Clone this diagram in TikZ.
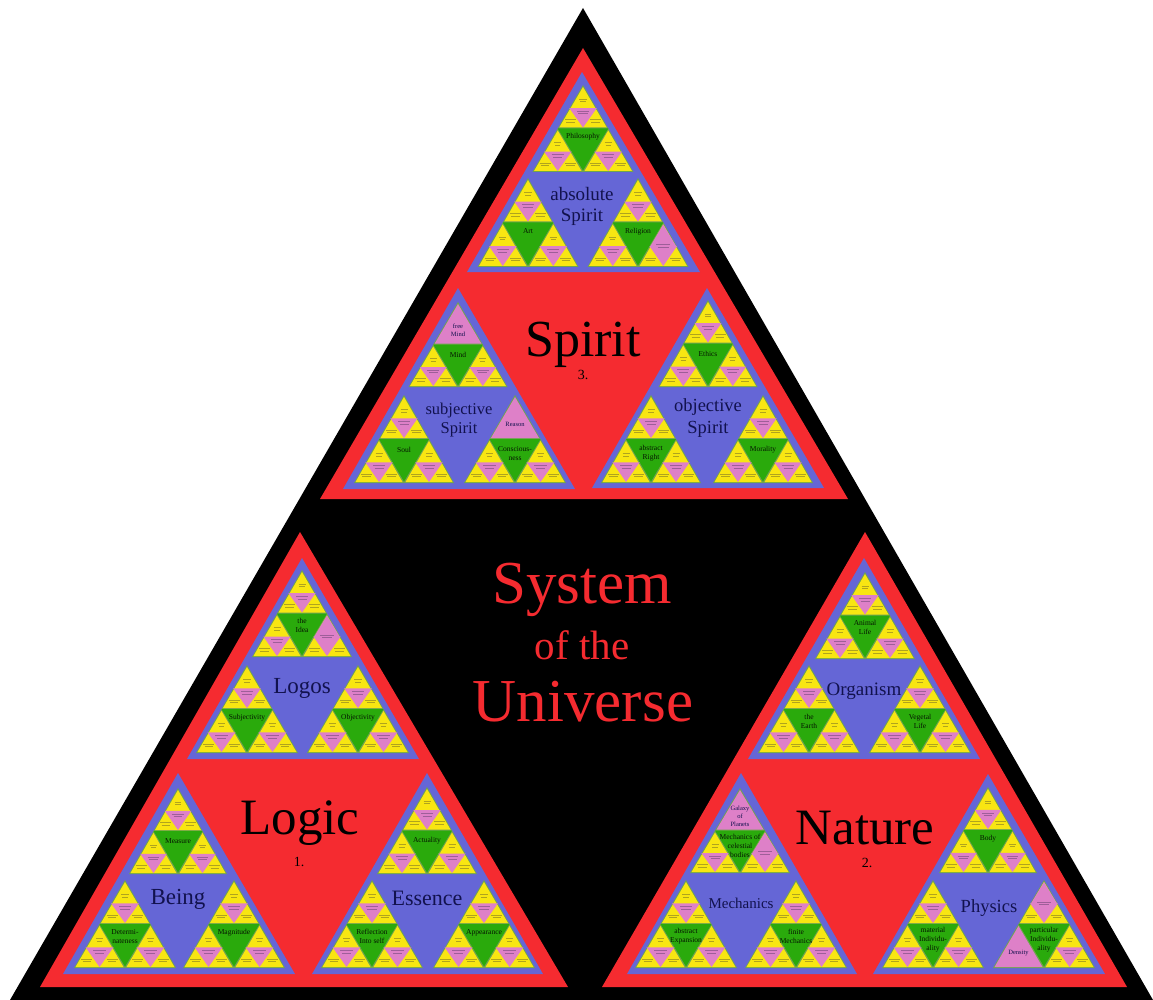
\documentclass[tikz,border=0pt]{standalone}
\usepackage{fontspec}
\setmainfont{Liberation Serif}
\definecolor{sysred}{HTML}{F52B30}
\definecolor{sysblue}{HTML}{6566D6}
\definecolor{sysgreen}{HTML}{2AAA0C}
\definecolor{sysedge}{HTML}{70A44E}
\definecolor{sysyellow}{HTML}{F8E612}
\definecolor{syspink}{HTML}{DE80C8}
\definecolor{sysink}{HTML}{12124E}
\tikzset{
  x=1pt,y=-1pt,
  blackpart/.style={fill=black},
  redpart/.style={fill=sysred},
  bluepart/.style={fill=sysblue},
  edgepart/.style={fill=sysedge},
  greenpart/.style={fill=sysgreen},
  yellowpart/.style={fill=sysyellow},
  pinkpart/.style={fill=syspink},
  microtext/.style={draw=black!75!sysblue,line width=.8pt,opacity=.32},
  txt/.style={inner sep=0pt,align=center},
  bigtext/.style={txt,text=black},
  titletext/.style={txt,text=sysred},
  bluetext/.style={txt,text=sysink},
  greentext/.style={txt,text=black!88!sysgreen},
  pinktext/.style={txt,text=sysink},
}
\newcommand\fs[2]{\fontsize{#1}{#2}\selectfont}
\newcounter{lbl}
\newcommand\lab[5]{\stepcounter{lbl}\node[#1,font=\fs{#2}{#3}] (lbl\arabic{lbl}) at (#4) {#5};}
% up triangle: apex x, apex y, width, height
\newcommand\sysup[5]{\fill[#5] ({#1},{#2}) -- ({#1-(#3)/2},{#2+(#4)}) -- ({#1+(#3)/2},{#2+(#4)}) -- cycle;}
% down triangle: centre x, top y, width, height
\newcommand\sysdown[5]{\fill[#5] ({#1-(#3)/2},{#2}) -- ({#1+(#3)/2},{#2}) -- ({#1},{#2+(#4)}) -- cycle;}
\newcommand\inklines[3]{% centre x, y, half width
  \draw[microtext] ({#1-(#3)},{#2}) -- ({#1+(#3)},{#2});
  \draw[microtext] ({#1-.75*(#3)},{#2+2.6}) -- ({#1+.75*(#3)},{#2+2.6});}
% micro cells: apex x, apex y, width, height
\newcommand\subn[4]{%
  \sysup{#1}{#2+2}{#3-3}{#4-3}{yellowpart}
  \sysdown{#1}{#2+2+(#4-3)*.52}{(#3-3)*.58}{(#4-3)*.48}{pinkpart}
  \inklines{#1}{#2+2+(#4-3)*.30}{(#3)*.07}
  \inklines{#1}{#2+2+(#4-3)*.60}{(#3)*.12}
  \inklines{#1-(#3)/4}{#2+(#4)*.80}{(#3)*.11}
  \inklines{#1+(#3)/4}{#2+(#4)*.80}{(#3)*.11}}
\newcommand\subd[4]{%
  \sysup{#1}{#2+2}{#3-3}{#4-3}{yellowpart}
  \sysdown{#1}{#2+2+(#4-3)*.52}{(#3-3)*.58}{(#4-3)*.48}{pinkpart}
  \sysup{#1}{#2+2}{(#3-3)*.56}{(#4-3)*.54}{pinkpart}
  \inklines{#1}{#2+(#4)*.50}{(#3)*.14}
  \inklines{#1-(#3)/4}{#2+(#4)*.80}{(#3)*.11}
  \inklines{#1+(#3)/4}{#2+(#4)*.80}{(#3)*.11}}
\newcommand\subp[5]{%
  \sysup{#2}{#3+2}{#4-3}{#5-3}{pinkpart}
  \lab{pinktext}{6.5}{8}{{#2},{#3+(#5)*.66}}{#1}}
% level-three cell: x, y, w, h, label height fraction, three micro cells, label
\newcommand\cellx[9]{\def\celltext{#9}\cellgo{#1}{#2}{#3}{#4}{#5}{#6}{#7}{#8}}
\newcommand\cellgo[8]{%
  \sysup{#1}{#2}{#3}{#4}{edgepart}
  \sysdown{#1}{#2+(#4)/2}{(#3)/2}{(#4)/2-1.5}{greenpart}
  #6{#1}{#2}{(#3)/2}{(#4)/2}
  #7{#1-(#3)/4}{#2+(#4)/2}{(#3)/2}{(#4)/2}
  #8{#1+(#3)/4}{#2+(#4)/2}{(#3)/2}{(#4)/2}
  \lab{greentext}{7.5}{9}{{#1},{#2+(#4)*#5}}{\celltext}}
\begin{document}
\begin{tikzpicture}
\useasboundingbox[fill=white] (0,0) rectangle (1153,1000);
% outer triangle
\fill[blackpart] (583,8) -- (10,1000) -- (1153,1000) -- cycle;
% red triangles
\fill[redpart] (583,48) -- (320,499) -- (848,499) -- cycle;
\fill[redpart] (300,532) -- (40,987) -- (568,987) -- cycle;
\fill[redpart] (865,532) -- (602,987) -- (1127,987) -- cycle;
% blue triangles
\fill[bluepart] (582,72) -- (467,272) -- (700,272) -- cycle;
\fill[bluepart] (458,288) -- (343,489) -- (575,489) -- cycle;
\fill[bluepart] (707,288) -- (592,488) -- (824,488) -- cycle;
\fill[bluepart] (178,773) -- (63,974) -- (295,974) -- cycle;
\fill[bluepart] (427,773) -- (312,974) -- (543,974) -- cycle;
\fill[bluepart] (302,558) -- (187,759) -- (419,759) -- cycle;
\fill[bluepart] (741,773) -- (627,974) -- (857,974) -- cycle;
\fill[bluepart] (988,774) -- (873,974) -- (1105,974) -- cycle;
\fill[bluepart] (864,558) -- (748,759) -- (980,759) -- cycle;
% absolute Spirit
\cellx{583}{85}{101}{87}{.60}{\subn}{\subn}{\subn}{Philosophy}
\cellx{528}{178}{101}{89}{.60}{\subn}{\subn}{\subn}{Art}
\cellx{638}{178}{101}{89}{.60}{\subn}{\subn}{\subd}{Religion}
% subjective Spirit
\cellx{458}{302}{99}{85}{.62}{\subp{free\\Mind}}{\subn}{\subn}{Mind}
\cellx{404}{395}{100}{88}{.62}{\subn}{\subn}{\subn}{Soul}
\cellx{515}{395}{102}{88}{.66}{\subp{Reason}}{\subn}{\subn}{Conscious-\\ness}
% objective Spirit
\cellx{708}{300}{99}{87}{.62}{\subn}{\subn}{\subn}{Ethics}
\cellx{651}{395}{100}{88}{.66}{\subn}{\subn}{\subn}{abstract\\Right}
\cellx{763}{395}{100}{88}{.62}{\subn}{\subn}{\subn}{Morality}
% Being
\cellx{178}{788}{98}{86}{.62}{\subn}{\subn}{\subn}{Measure}
\cellx{125}{880}{102}{88}{.64}{\subn}{\subn}{\subn}{Determi-\\nateness}
\cellx{234}{880}{102}{88}{.60}{\subn}{\subn}{\subn}{Magnitude}
% Essence
\cellx{427}{787}{100}{87}{.62}{\subn}{\subn}{\subn}{Actuality}
\cellx{372}{880}{102}{88}{.64}{\subn}{\subn}{\subn}{Reflection\\Into self}
\cellx{484}{880}{102}{88}{.60}{\subn}{\subn}{\subn}{Appearance}
% Logos
\cellx{302}{570}{100}{87}{.64}{\subn}{\subn}{\subd}{the\\Idea}
\cellx{247}{665}{102}{88}{.60}{\subn}{\subn}{\subn}{Subjectivity}
\cellx{358}{665}{102}{88}{.60}{\subn}{\subn}{\subn}{Objectivity}
% Organism
\cellx{865}{572}{100}{87}{.64}{\subn}{\subn}{\subn}{Animal\\Life}
\cellx{809}{665}{102}{88}{.64}{\subn}{\subn}{\subn}{the\\Earth}
\cellx{920}{665}{102}{88}{.64}{\subn}{\subn}{\subn}{Vegetal\\Life}
% Mechanics
\cellx{740}{788}{100}{85}{.68}{\subp{Galaxy\\of\\Planets}}{\subn}{\subd}{Mechanics of\\celestial\\bodies}
\cellx{686}{880}{102}{88}{.64}{\subn}{\subn}{\subn}{abstract\\Expansion}
\cellx{796}{880}{102}{88}{.64}{\subn}{\subn}{\subn}{finite\\Mechanics}
% Physics
\cellx{988}{787}{98}{86}{.60}{\subn}{\subn}{\subn}{Body}
\cellx{933}{880}{102}{88}{.68}{\subn}{\subn}{\subn}{material\\Individu-\\ality}
\cellx{1044}{880}{102}{88}{.68}{\subd}{\subp{Density}}{\subn}{particular\\Individu-\\ality}
% blue-triangle titles
\lab{bluetext}{19}{21}{582,206}{absolute\\Spirit}
\lab{bluetext}{16.5}{19}{459,420}{subjective\\Spirit}
\lab{bluetext}{18.5}{22}{708,418}{objective\\Spirit}
\lab{bluetext}{23}{26}{178,899}{Being}
\lab{bluetext}{22}{26}{427,898}{Essence}
\lab{bluetext}{23}{26}{302,688}{Logos}
\lab{bluetext}{19}{22}{864,691}{Organism}
\lab{bluetext}{15}{18}{741,903}{Mechanics}
\lab{bluetext}{18.5}{22}{989,908}{Physics}
% main titles
\lab{bigtext}{52}{56}{583,345}{Spirit}
\lab{bigtext}{14}{16}{583,375}{3.}
\lab{bigtext}{51}{56}{300,823}{Logic}
\lab{bigtext}{14}{16}{299,862}{1.}
\lab{bigtext}{51}{56}{865,828}{Nature}
\lab{bigtext}{14}{16}{867,863}{2.}
\lab{titletext}{61}{66}{582,590}{System}
\lab{titletext}{41}{44}{582,645}{of the}
\lab{titletext}{61}{66}{583,702}{Universe}
\end{tikzpicture}
\end{document}
